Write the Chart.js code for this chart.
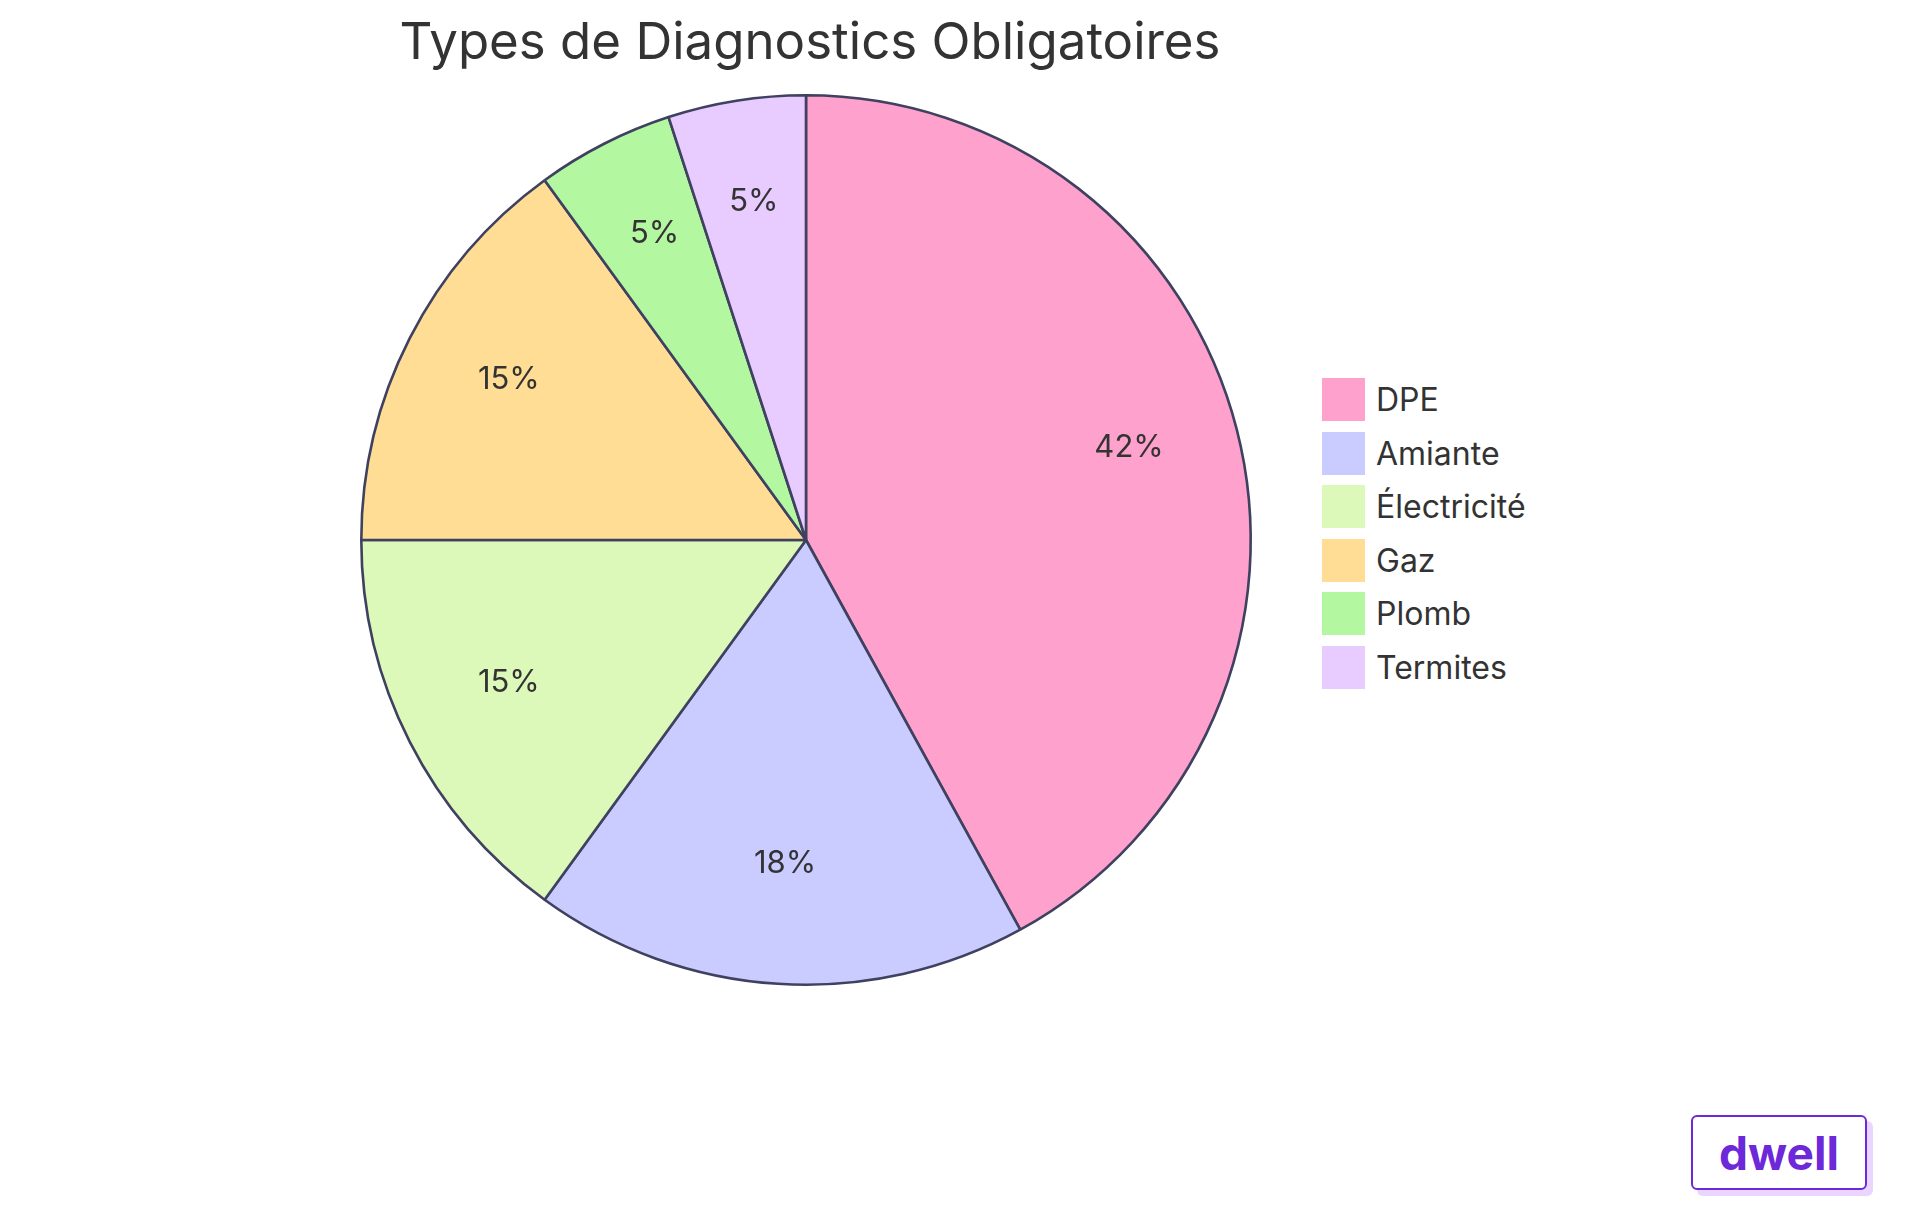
<!DOCTYPE html>
<html><head><meta charset="utf-8">
<script src="https://cdn.jsdelivr.net/npm/chart.js@4"></script>
<style>
body{margin:0;width:1920px;height:1215px;background:#fff;position:relative;font-family:Inter,"Open Sans",sans-serif;color:#333}
#title{position:absolute;left:0;width:1620px;top:10px;text-align:center;font-size:51px;font-weight:400;color:#333}
#wrap{position:absolute;left:356px;top:90px;width:900px;height:900px}
#legend{position:absolute;left:1321px;top:373px}
.it{display:flex;align-items:center;height:53.5px;font-size:32px;color:#333}
.sw{width:45px;height:45px;margin-right:10px;box-sizing:border-box;border:1px solid #fff}
#logo{position:absolute;left:1691px;top:1115px;width:176px;height:75px;box-sizing:border-box;border:2px solid #6D28D9;border-radius:6px;background:#fff;box-shadow:6px 6px 0 #E9D5FF;color:#6D28D9;font-weight:700;font-size:46px;display:flex;align-items:center;justify-content:center}
</style></head><body>
<div id="title">Types de Diagnostics Obligatoires</div>
<div id="wrap"><canvas id="c"></canvas></div>
<div id="legend"></div>
<div id="logo">dwell</div>
<script>
const categories=["DPE","Amiante","Électricité","Gaz","Plomb","Termites"];
const values=[42,18,15,15,5,5];
const colors=["#FFA1CD","#CACBFF","#DCF9BA","#FFDD94","#B3F7A0","#E8CBFF"];
const lg=document.getElementById('legend');
categories.forEach((c,i)=>{lg.innerHTML+=`<div class="it"><div class="sw" style="background:${colors[i]}"></div>${c}</div>`;});
const labelPlugin={id:'lbl',afterDatasetsDraw(ch){const ctx=ch.ctx;const meta=ch.getDatasetMeta(0);const tot=values.reduce((a,b)=>a+b,0);
ctx.save();ctx.font='31px Inter, "Open Sans", sans-serif';ctx.fillStyle='#333';ctx.textAlign='center';ctx.textBaseline='middle';
meta.data.forEach((a,i)=>{const m=(a.startAngle+a.endAngle)/2;const r=a.outerRadius*0.75;ctx.fillText(Math.round(values[i]/tot*100)+'%',a.x+Math.cos(m)*r,a.y+Math.sin(m)*r-9);});ctx.restore();}};
new Chart(document.getElementById('c'),{type:'pie',data:{labels:categories,datasets:[{data:values,backgroundColor:colors,borderColor:'#3F4160',borderWidth:2.6}]},
options:{responsive:true,maintainAspectRatio:false,animation:false,layout:{padding:4},plugins:{legend:{display:false},tooltip:{enabled:false}}},plugins:[labelPlugin]});
</script></body></html>
